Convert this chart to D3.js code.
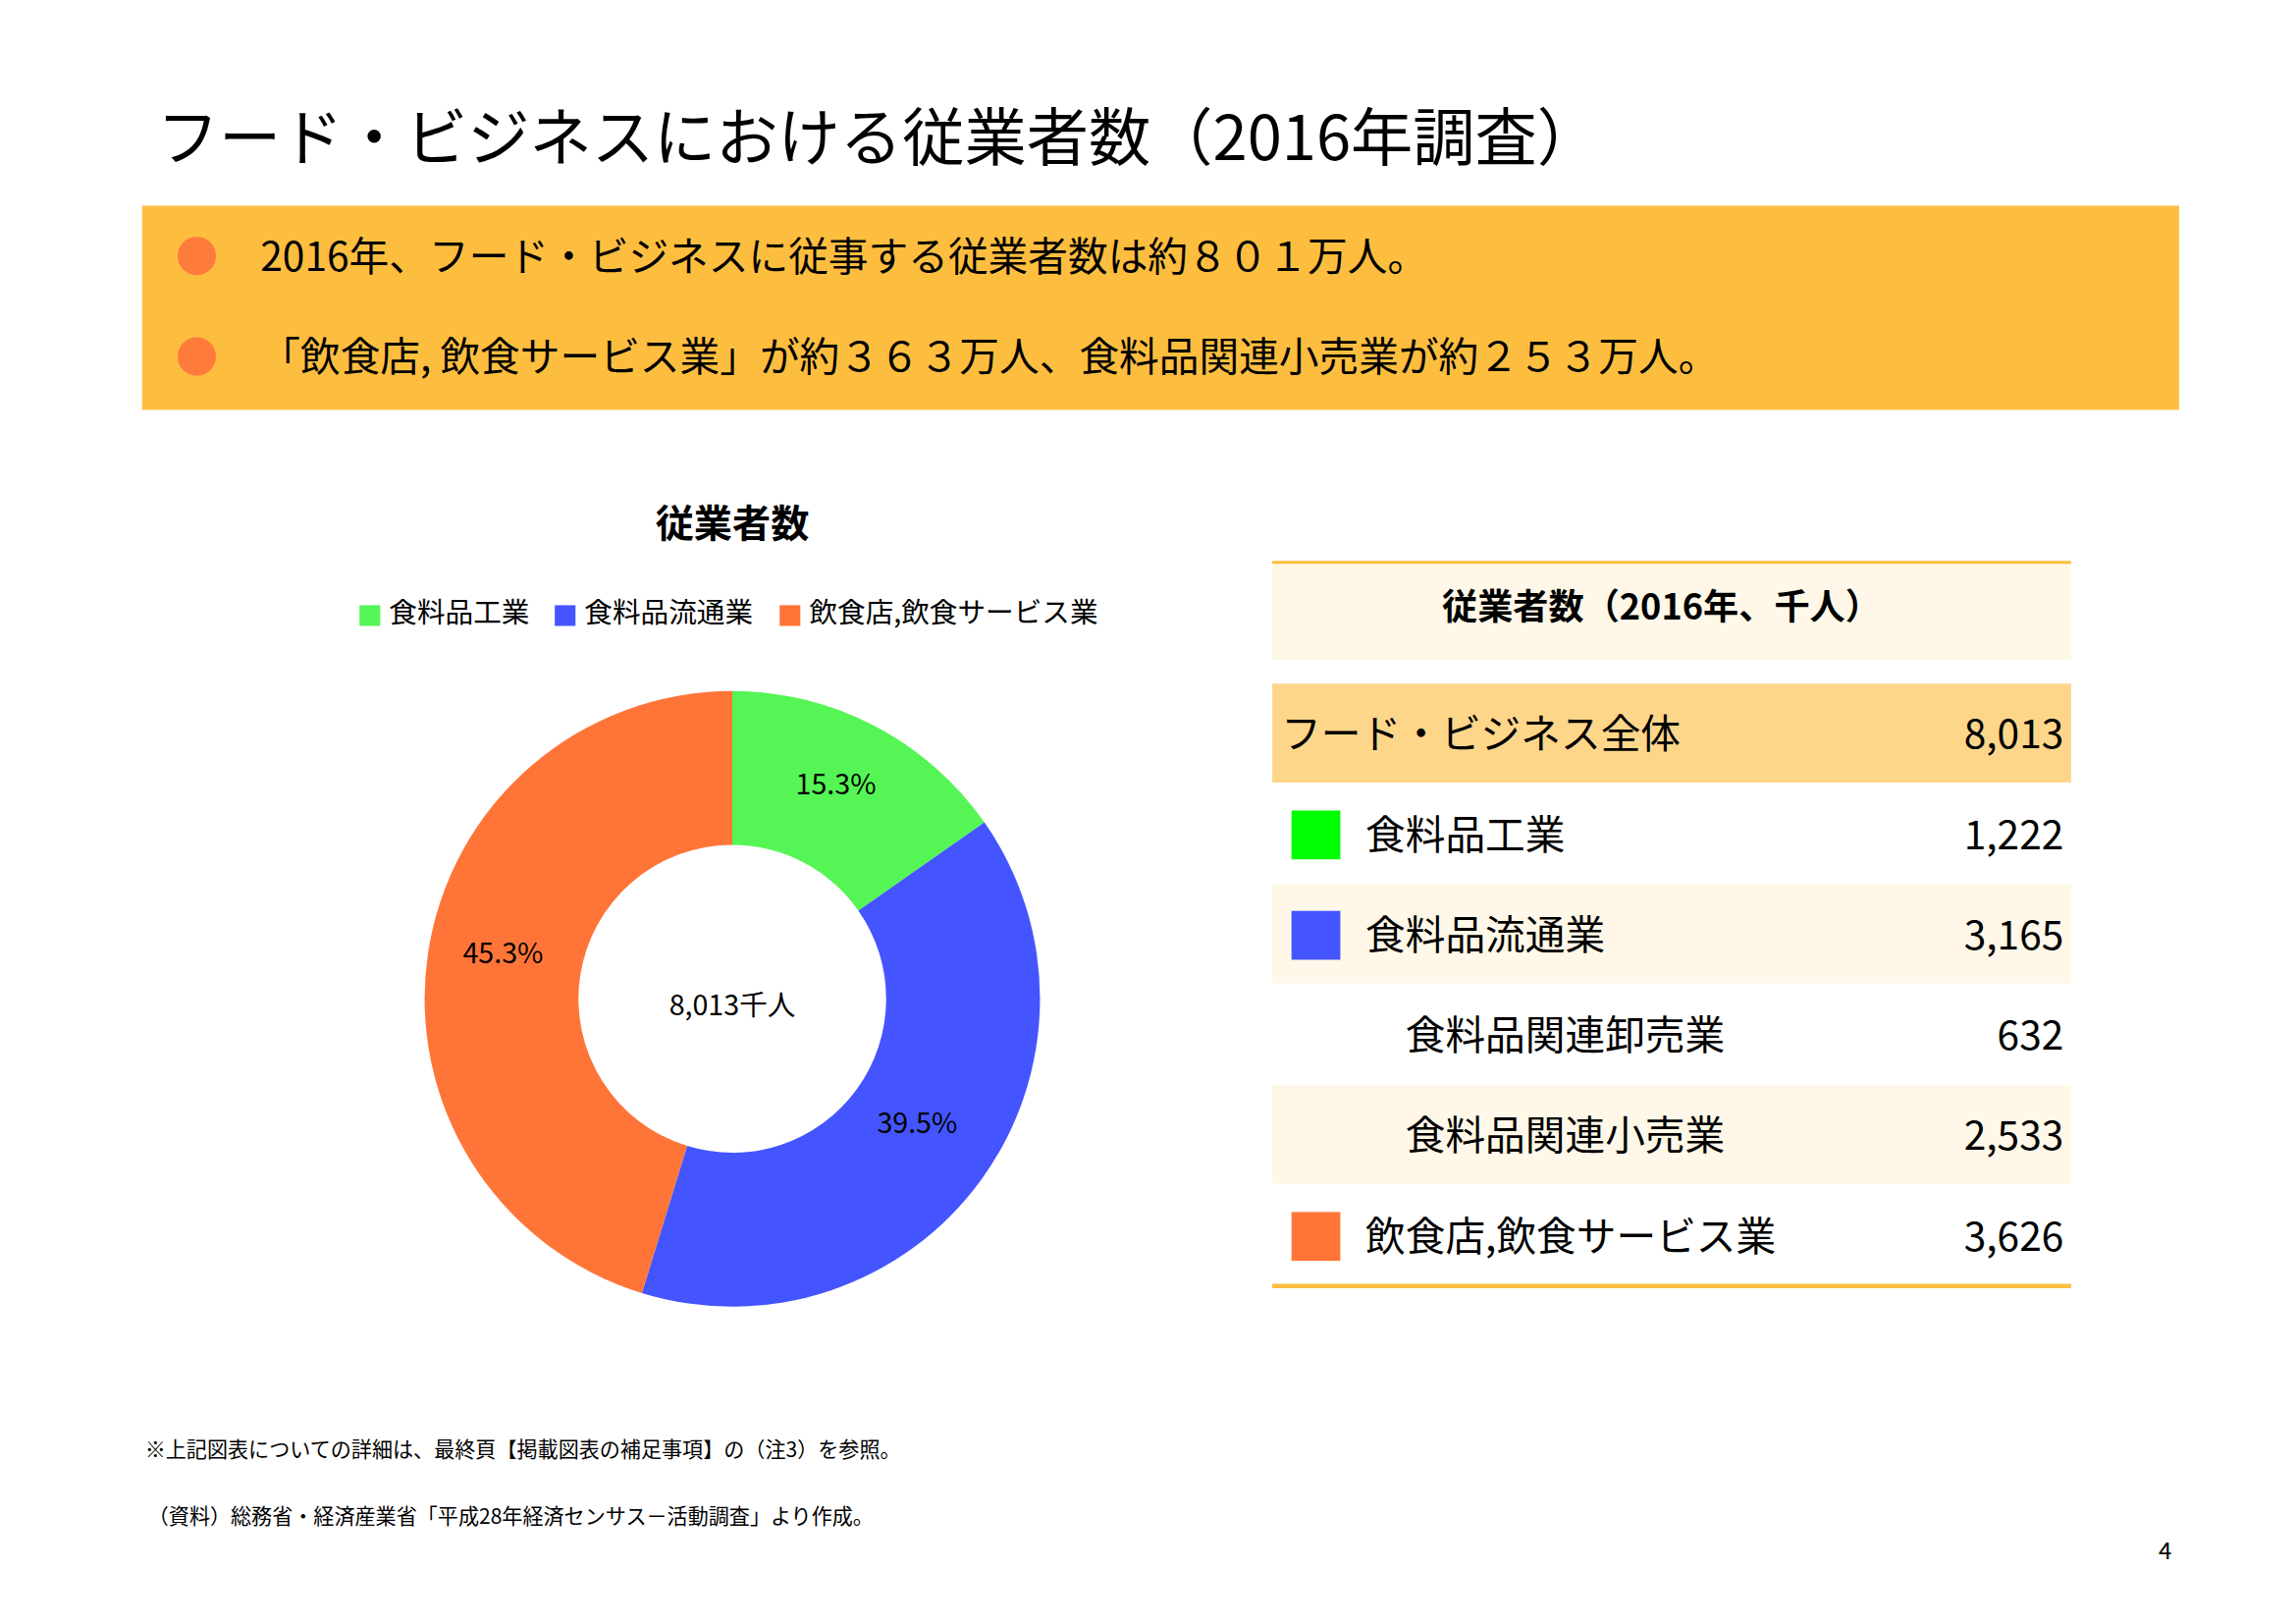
<!DOCTYPE html>
<html><head><meta charset="utf-8">
<script src="https://cdn.jsdelivr.net/npm/d3@7"></script>
<style>
body{margin:0;background:#fff}
text{font-family:"Noto Sans CJK JP","Noto Sans",sans-serif}
</style></head>
<body>
<script>
const categories = ['食料品工業', '食料品流通業', '飲食店,飲食サービス業']
const shares = [15.3, 39.5, 45.3]
const colors = ['#55F555', '#4455FF', '#FF7538']
const tableLabels = ['フード・ビジネス全体', '食料品工業', '食料品流通業', '食料品関連卸売業', '食料品関連小売業', '飲食店,飲食サービス業']
const tableValues = ['8,013', '1,222', '3,165', '632', '2,533', '3,626']
const tableSwatch = [null, '#00FF00', '#4455FF', null, null, '#FF7538']
const tableIndent = [0, 1, 1, 2, 2, 1]
const bullets = ['2016年、フード・ビジネスに従事する従業者数は約８０１万人。', '「飲食店, 飲食サービス業」が約３６３万人、食料品関連小売業が約２５３万人。']

const svg = d3.select('body').append('svg')
  .attr('width', 2339).attr('height', 1654)
  .attr('viewBox', '0 0 1552 1097.5')

svg.append('text').attr('x', 106).attr('y', 108)
  .attr('font-size', 42).text('フード・ビジネスにおける従業者数（2016年調査）')

svg.append('rect').attr('x', 96).attr('y', 139).attr('width', 1377).attr('height', 138).attr('fill', '#FDBE40')
bullets.forEach((b, i) => {
  const y = 173 + i*68
  svg.append('circle').attr('cx', 133).attr('cy', y).attr('r', 13).attr('fill', '#FF7B3C')
  svg.append('text').attr('x', 176).attr('y', y + 10).attr('font-size', 27).text(b)
})

// donut
svg.append('text').attr('x', 495).attr('y', 363).attr('text-anchor', 'middle')
  .attr('font-size', 26).attr('font-weight', 'bold').text('従業者数')

const legendX = [243, 375, 527]
categories.forEach((c, i) => {
  svg.append('rect').attr('x', legendX[i]).attr('y', 409).attr('width', 14).attr('height', 14).attr('fill', colors[i])
  svg.append('text').attr('x', legendX[i] + 20).attr('y', 421).attr('font-size', 19).text(c)
})

const pie = d3.pie().sort(null).value(d => d)
const arc = d3.arc().innerRadius(104).outerRadius(208)
const g = svg.append('g').attr('transform', 'translate(495,675)')
g.selectAll('path').data(pie(shares)).enter().append('path')
  .attr('d', arc).attr('fill', (d, i) => colors[i])
const labelOffsets = [[70, -138], [125, 91], [-155, -24]]
g.selectAll('text.pct').data(pie(shares)).enter().append('text')
  .attr('x', (d, i) => labelOffsets[i][0]).attr('y', (d, i) => labelOffsets[i][1])
  .attr('text-anchor', 'middle').attr('font-size', 19)
  .text(d => d.data.toFixed(1) + '%')
g.append('text').attr('y', 11).attr('text-anchor', 'middle').attr('font-size', 19).text('8,013千人')

// table
const tx0 = 860, tx1 = 1400
svg.append('rect').attr('x', tx0).attr('y', 380).attr('width', tx1 - tx0).attr('height', 66).attr('fill', '#FFF8E8')
svg.append('line').attr('x1', tx0).attr('x2', tx1).attr('y1', 380).attr('y2', 380).attr('stroke', '#FDBE40').attr('stroke-width', 2)
svg.append('text').attr('x', 1123).attr('y', 419).attr('text-anchor', 'middle')
  .attr('font-size', 24).attr('font-weight', 'bold').text('従業者数（2016年、千人）')

const rowY = d3.scaleBand().domain(d3.range(tableLabels.length)).range([462, 869])
const rowFill = ['#FDD68A', '#FFFFFF', '#FFF8E8', '#FFFFFF', '#FFF8E8', '#FFFFFF']
const rows = svg.selectAll('g.row').data(tableLabels).enter().append('g')
  .attr('transform', (d, i) => `translate(0,${rowY(i)})`)
rows.append('rect').attr('x', tx0).attr('width', tx1 - tx0).attr('height', rowY.bandwidth() - 1)
  .attr('fill', (d, i) => rowFill[i])
rows.filter((d, i) => tableSwatch[i]).append('rect')
  .attr('x', 873).attr('y', rowY.bandwidth()/2 - 16).attr('width', 33).attr('height', 33)
  .attr('fill', (d, i) => tableSwatch[tableLabels.indexOf(d)])
rows.append('text').attr('x', (d, i) => [866, 923, 950][tableIndent[i]])
  .attr('y', rowY.bandwidth()/2 + 10).attr('font-size', 27).text(d => d)
rows.append('text').attr('x', 1395).attr('text-anchor', 'end')
  .attr('y', rowY.bandwidth()/2 + 10).attr('font-size', 27).text((d, i) => tableValues[i])
svg.append('line').attr('x1', tx0).attr('x2', tx1).attr('y1', 869).attr('y2', 869).attr('stroke', '#FDBE40').attr('stroke-width', 3)

svg.append('text').attr('x', 98).attr('y', 985).attr('font-size', 14)
  .text('※上記図表についての詳細は、最終頁【掲載図表の補足事項】の（注3）を参照。')
svg.append('text').attr('x', 100).attr('y', 1030).attr('font-size', 14)
  .text('（資料）総務省・経済産業省「平成28年経済センサス－活動調査」より作成。')
svg.append('text').attr('x', 1468).attr('y', 1054).attr('text-anchor', 'end').attr('font-size', 16).text('4')
</script>
</body></html>
